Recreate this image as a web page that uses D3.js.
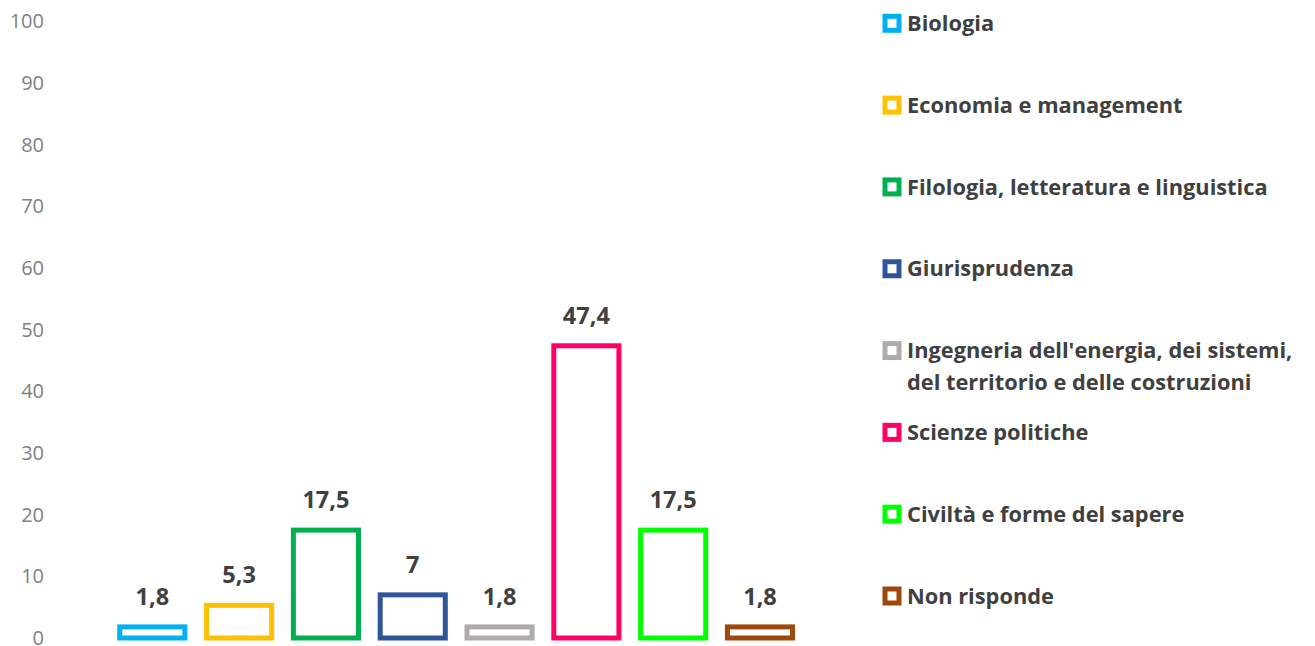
<!DOCTYPE html>
<html>
<head>
<meta charset="utf-8">
<script src="https://cdn.jsdelivr.net/npm/d3@7"></script>
<style>
  html, body { margin: 0; padding: 0; background: #fff; }
  svg { display: block; }
</style>
</head>
<body>
<svg id="chart" width="1315" height="646"></svg>
<script>
const categories = [
  "Biologia",
  "Economia e management",
  "Filologia, letteratura e linguistica",
  "Giurisprudenza",
  "Ingegneria dell'energia, dei sistemi, del territorio e delle costruzioni",
  "Scienze politiche",
  "Civiltà e forme del sapere",
  "Non risponde"
];
const values = [1.8, 5.3, 17.5, 7, 1.8, 47.4, 17.5, 1.8];
const valueLabels = ["1,8", "5,3", "17,5", "7", "1,8", "47,4", "17,5", "1,8"];
const colors = ["#00B0F0", "#FFC000", "#00B050", "#2F5597", "#AFABAB", "#FF0066", "#00FF00", "#9E480E"];
const legendLines = [
  ["Biologia"],
  ["Economia e management"],
  ["Filologia, letteratura e linguistica"],
  ["Giurisprudenza"],
  ["Ingegneria dell'energia, dei sistemi,", "del territorio e delle costruzioni"],
  ["Scienze politiche"],
  ["Civiltà e forme del sapere"],
  ["Non risponde"]
];
const yTicks = [0, 10, 20, 30, 40, 50, 60, 70, 80, 90, 100];

const svg = d3.select("#chart");
const FONT = "'Open Sans', 'Liberation Sans', sans-serif";

const y = d3.scaleLinear().domain([0, 100]).range([638, 21.5]);
const x = d3.scaleBand().domain(categories).range([108.9, 803.4])
  .paddingInner(0.25).paddingOuter(0.125);

// Y axis (labels only)
const yAxis = d3.axisLeft(y).tickValues(yTicks).tickSize(0).tickPadding(0);
const gy = svg.append("g").attr("transform", "translate(44,0)").call(yAxis);
gy.select(".domain").remove();
gy.selectAll("text")
  .attr("font-family", FONT)
  .attr("font-size", 20)
  .attr("fill", "#808080")
  .attr("dy", "0.32em");

// Bars
const sw = 5;
svg.append("g").selectAll("rect")
  .data(values)
  .join("rect")
  .attr("x", (d, i) => x(categories[i]))
  .attr("y", d => y(d))
  .attr("width", x.bandwidth())
  .attr("height", d => y(0) - y(d))
  .attr("fill", "#fff")
  .attr("stroke", (d, i) => colors[i])
  .attr("stroke-width", sw);

// Data labels
svg.append("g").selectAll("text")
  .data(values)
  .join("text")
  .attr("x", (d, i) => x(categories[i]) + x.bandwidth() / 2)
  .attr("y", d => y(d) - 22)
  .attr("text-anchor", "middle")
  .attr("font-family", FONT)
  .attr("font-weight", "bold")
  .attr("font-size", 23.5)
  .attr("fill", "#404040")
  .text((d, i) => valueLabels[i]);

// Legend
const legendY = d3.scaleLinear().domain([0, 7]).range([23.3, 596]);
const lg = svg.append("g").selectAll("g")
  .data(categories)
  .join("g")
  .attr("transform", (d, i) => `translate(892,${legendY(i)})`);
lg.append("rect")
  .attr("x", -7).attr("y", -7)
  .attr("width", 14).attr("height", 14)
  .attr("fill", "#fff")
  .attr("stroke", (d, i) => colors[i])
  .attr("stroke-width", 5);
lg.each(function(d, i) {
  const t = d3.select(this).append("text")
    .attr("x", 15)
    .attr("y", 0)
    .attr("font-family", FONT)
    .attr("font-weight", "bold")
    .attr("font-size", 21.8)
    .attr("fill", "#404040");
  legendLines[i].forEach((line, j) => {
    t.append("tspan")
      .attr("x", 15)
      .attr("dy", j === 0 ? "0.35em" : "1.45em")
      .text(line);
  });
});
</script>
</body>
</html>
